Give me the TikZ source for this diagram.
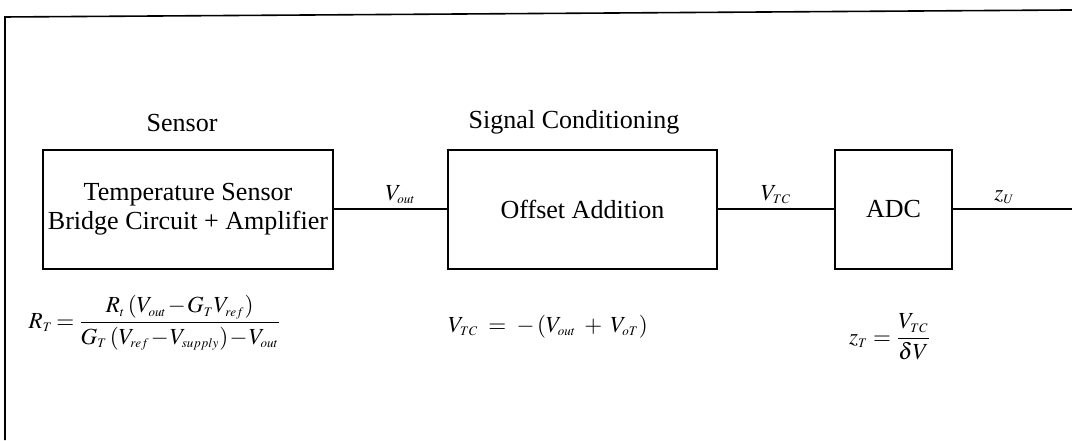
\documentclass[tikz,border=0pt]{standalone}
\usepackage{amsmath}
\usepackage{mathptmx}
\usepackage{fontspec}
\setmainfont{Liberation Serif}
\usepackage{tikz}
\usetikzlibrary{positioning}
\DeclareMathSizes{11.5}{11.5}{6.5}{5}

\begin{document}
\begin{tikzpicture}[every node/.style={font=\fontsize{13}{14.5}\selectfont}]
   \tikzstyle{b}=[draw, line width=0.8pt, minimum height=2.087cm, align=center, inner sep=2pt];
   \tikzstyle{w}=[line width=0.8pt];
   \tikzstyle{eq}=[font=\fontsize{11.5}{14}\selectfont];
   \useasboundingbox (0,0) rectangle (18.8,7.717);
   \draw[w] (0.088,0) -- (0.088,7.419) -- (18.8,7.542);
   \node[b, minimum width=5.086cm] (sens) at (3.297,4.048) {Temperature Sensor\\Bridge Circuit + Amplifier};
   \node[b, minimum width=4.717cm] (off)  at (10.215,4.048) {Offset Addition};
   \node[b, minimum width=2.052cm] (adc)  at (15.670,4.048) {ADC};
   \coordinate (zout) at (18.8,4.048);
   \node (sl)  at (3.192,5.56) {Sensor};
   \node (scl) at (10.066,5.58) {Signal Conditioning};
   \draw[w] (sens) -- node[eq,above,xshift=5pt,yshift=-1pt]{$V_{out}$} (off);
   \draw[w] (off) -- node[eq,above,yshift=-1pt]{$V_{TC}$} (adc);
   \draw[w] (adc) -- node[eq,above,xshift=-4pt,yshift=-1pt]{$z_U$} (zout);
   \node[eq] (eqr) at (2.718,2.053)
     {\medmuskip=1mu\thickmuskip=3mu$\displaystyle R_T=\frac{R_t\left(V_{out}-G_TV_{ref}\right)}{G_T\left(V_{ref}-V_{supply}\right)-V_{out}}$};
   \node[eq] (eqv) at (9.610,1.99) {$V_{TC}\;=\;-\left(V_{out}\;+\;V_{oT}\right)$};
   \node[eq] (eqz) at (15.608,1.807) {$\displaystyle z_T=\frac{V_{TC}}{\delta V}$};
  \end{tikzpicture}
\end{document}
